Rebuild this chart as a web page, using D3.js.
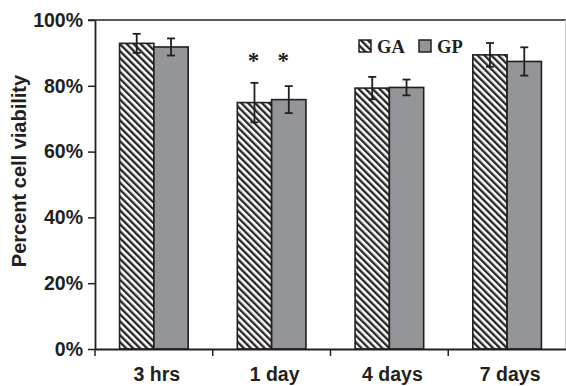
<!DOCTYPE html>
<html><head><meta charset="utf-8">
<script src="https://cdn.jsdelivr.net/npm/d3@7"></script>
<style>body{margin:0;background:#fff}svg{display:block}</style>
</head><body>
<svg id="chart" width="566" height="386"></svg>
<script>
const categories = ["3 hrs", "1 day", "4 days", "7 days"];
const seriesNames = ["GA", "GP"];
const gaMeans = [92.9, 74.9, 79.3, 89.4];
const gaErr = [2.9, 6.0, 3.4, 3.6];
const gpMeans = [91.8, 75.8, 79.5, 87.4];
const gpErr = [2.6, 4.1, 2.4, 4.3];
const yTicks = [0, 20, 40, 60, 80, 100];
const significant = [[false,false],[true,true],[false,false],[false,false]];

const svg = d3.select("#chart");
const mLeft = 95, mRight = 566, mTop = 20, mBottom = 349;
const ink = "#231f20", gray = "#939598";

const x = d3.scaleBand().domain(categories).range([mLeft, mRight]).padding(0);
const xi = d3.scaleBand().domain(seriesNames).range([0, x.bandwidth()]).paddingInner(0).paddingOuter(0.716);
const y = d3.scaleLinear().domain([0, 100]).range([mBottom, mTop]);

const defs = svg.append("defs");
const pat = defs.append("pattern").attr("id","hatch").attr("patternUnits","userSpaceOnUse")
  .attr("width",4.9).attr("height",10).attr("patternTransform","rotate(-45)");
pat.append("rect").attr("width",4.9).attr("height",10).attr("fill","#fff");
pat.append("line").attr("x1",1.2).attr("x2",1.2).attr("y1",0).attr("y2",10).attr("stroke",ink).attr("stroke-width",2.3);

const fills = {GA: "url(#hatch)", GP: gray};
const rows = categories.map((c,i)=>({c, vals:[{s:"GA",v:gaMeans[i],e:gaErr[i],sig:significant[i][0]},{s:"GP",v:gpMeans[i],e:gpErr[i],sig:significant[i][1]}]}));

// frame top and right
svg.append("line").attr("x1",mLeft-7).attr("x2",mRight).attr("y1",mTop).attr("y2",mTop).attr("stroke",ink).attr("stroke-width",1.5);
svg.append("line").attr("x1",mRight-0.5).attr("x2",mRight-0.5).attr("y1",mTop).attr("y2",mBottom).attr("stroke","#ccc").attr("stroke-width",1);

const g = svg.append("g");
const grp = g.selectAll("g.cat").data(rows).join("g").attr("transform",d=>`translate(${x(d.c)},0)`);
grp.selectAll("rect").data(d=>d.vals).join("rect")
  .attr("x",d=>xi(d.s)).attr("width",xi.bandwidth())
  .attr("y",d=>y(d.v)).attr("height",d=>mBottom-y(d.v))
  .attr("fill",d=>fills[d.s]).attr("stroke",ink).attr("stroke-width",1.6);
const eb = grp.selectAll("g.err").data(d=>d.vals).join("g").attr("class","err");
eb.append("line").attr("x1",d=>xi(d.s)+xi.bandwidth()/2).attr("x2",d=>xi(d.s)+xi.bandwidth()/2)
  .attr("y1",d=>y(d.v+d.e)).attr("y2",d=>y(d.v-d.e)).attr("stroke",ink).attr("stroke-width",1.8);
eb.selectAll("line.cap").data(d=>[[d,d.v+d.e],[d,d.v-d.e]]).join("line").attr("class","cap")
  .attr("x1",d=>xi(d[0].s)+xi.bandwidth()/2-4).attr("x2",d=>xi(d[0].s)+xi.bandwidth()/2+4)
  .attr("y1",d=>y(d[1])).attr("y2",d=>y(d[1])).attr("stroke",ink).attr("stroke-width",1.8);
grp.selectAll("text.sig").data(d=>d.vals.filter(v=>v.sig)).join("text").attr("class","sig")
  .attr("x",(d,i)=>xi(d.s)+xi.bandwidth()/2 - (d.s==="GP"?5.5:1)).attr("y",68)
  .attr("text-anchor","middle").attr("font-family","Liberation Serif, serif").attr("font-weight","bold")
  .attr("font-size",23).attr("fill",ink).text("*");

// y axis
const yAxis = svg.append("g").attr("transform",`translate(${mLeft},0)`)
  .call(d3.axisLeft(y).tickValues(yTicks).tickSize(7).tickSizeOuter(0).tickPadding(5).tickFormat(d=>d+"%"));
yAxis.select(".domain").attr("stroke",ink).attr("stroke-width",1.8);
yAxis.selectAll(".tick line").attr("stroke",ink).attr("stroke-width",1.5);
yAxis.selectAll("text").attr("font-family","Liberation Sans, Arial, sans-serif").attr("font-weight","bold").attr("font-size",19.5).attr("fill",ink);

// x axis
const xAxis = svg.append("g").attr("transform",`translate(0,${mBottom})`)
  .call(d3.axisBottom(x).tickSize(0).tickSizeOuter(0).tickPadding(18));
xAxis.select(".domain").attr("stroke",ink).attr("stroke-width",1.8);
xAxis.selectAll("text").attr("font-family","Liberation Sans, Arial, sans-serif").attr("font-weight","bold").attr("font-size",19.5).attr("fill",ink).attr("dx",3);
const bounds = categories.map(c=>x(c));
xAxis.selectAll("line.bt").data(bounds).join("line").attr("class","bt")
  .attr("x1",d=>d).attr("x2",d=>d).attr("y1",0).attr("y2",7).attr("stroke",ink).attr("stroke-width",1.5);

// y title
svg.append("text").attr("transform","translate(26,171) rotate(-90)").attr("text-anchor","middle")
  .attr("font-family","Liberation Sans, Arial, sans-serif").attr("font-weight","bold").attr("font-size",20).attr("fill",ink)
  .text("Percent cell viability");

// legend
const leg = svg.append("g").attr("transform","translate(359,40)");
seriesNames.forEach((s,i)=>{
  const lg = leg.append("g").attr("transform",`translate(${i*60},0)`);
  lg.append("rect").attr("width",12).attr("height",12).attr("fill",fills[s]).attr("stroke",ink).attr("stroke-width",1.5);
  lg.append("text").attr("x",18).attr("y",12.5).attr("font-family","Liberation Serif, serif").attr("font-weight","bold")
    .attr("font-size",18.5).attr("fill",ink).text(s);
});
</script>
</body></html>
